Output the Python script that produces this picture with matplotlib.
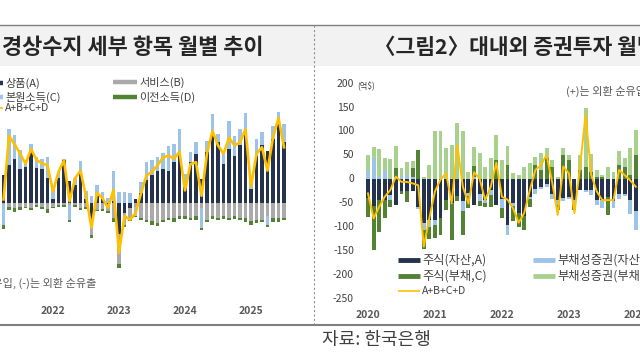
import numpy as np
import pandas as pd
import matplotlib
matplotlib.use('Agg')
import matplotlib.pyplot as plt
from matplotlib.lines import Line2D
from matplotlib.patches import Rectangle
from matplotlib.transforms import blended_transform_factory

plt.rcParams['font.family'] = ['Noto Sans CJK KR', 'DejaVu Sans']

W, H = 640, 360

# 경상수지 세부 항목 (억달러), 2021.04 ~ 2025.07
ca_months = pd.date_range('2021-04-01', '2025-07-01', freq='MS')
ca_goods = [46, 63, 74, 56, 60, 87, 59, 57, 42, 6, 41, 71,
            36, 30, 52, 6, -28, 11, 7, -3, 3, -52, -17, -8,
            6, 17, 39, 46, 54, 57, 54, 68, 82, 27, 68, 82,
            40, 85, 118, 101, 65, 90, 79, 96, 120, 23, 79, 96,
            87, 107, 131, 101]
ca_services = [-2, -7, -9, -7, -6, -8, -4, -7, -10, -6, -3, -4,
               -3, -4, -8, -7, -25, -11, -10, -11, -25, -50, -19, -19,
               -7, -25, -28, -30, -34, -28, -25, -25, -22, -22, -25, -22,
               -8, -28, -22, -25, -22, -25, -22, -25, -25, -30, -28, -28,
               -22, -25, -25, -25]
ca_primary = [-35, 61, 39, 33, 11, 12, 17, 17, 35, 21, 11, 3,
              -25, 11, 18, 14, 12, 19, 11, 8, 50, 19, 19, 17,
              -14, 18, 29, 26, 22, 27, 41, 30, 41, 22, 17, 19,
              -33, 19, 30, 14, 17, 47, 33, 28, 30, 17, 28, 22,
              -14, 22, 42, 30]
ca_transfer = [-6, -4, -6, -4, -3, -3, -3, -3, -6, -3, -3, -2,
               -4, -3, -4, -3, -6, -3, -3, -3, -6, -6, -4, -3,
               -3, -3, -3, -6, -4, -4, -4, -6, -4, -4, -4, -6,
               -4, -4, -4, -4, -4, -4, -4, -4, -6, -6, -6, -4,
               -4, -6, -6, -4]
ca_total = [6, 112, 98, 83, 65, 90, 72, 66, 63, 19, 52, 71,
            3, 41, 54, 11, -41, 17, 8, -8, 22, -83, -22, -28,
            -17, 16, 46, 52, 63, 76, 79, 74, 85, 21, 65, 68,
            12, 83, 120, 96, 82, 109, 96, 101, 123, 27, 82, 93,
            54, 109, 142, 93]

# 대내외 증권투자 (억달러), 2020.01 ~ 2024.01
pf_months = pd.date_range('2020-01-01', '2024-01-01', freq='MS')
pf_eq_asset = [-39, -55, -43, -43, -33, -53, -25, -25, -25, -57, -90, -84,
               -84, -80, -43, -50, -35, -45, -29, -53, -30, -43, -22, -53,
               -40, -95, -50, -70, -77, -36, -20, -15, -10, -30, -43, -39,
               -36, -43, -22, -22, -22, -43, -43, -36, -45, -30, -30, -43,
               -65]
pf_debt_asset = [20, 45, 8, 20, -10, 5, 8, 10, 5, -5, -15, -14,
                 -10, 0, 0, 0, 0, -20, -5, 5, -15, -5, -10, 0,
                 -20, -20, -5, 0, 0, -5, -10, -5, -5, -10, -10, -5,
                 -5, -10, 0, -5, -10, -10, -17, 0, -15, -10, -5, -28,
                 -40]
pf_eq_liab = [-39, -92, -66, -38, -15, 19, -5, -21, 19, 61, -40, -25,
              -28, -35, -20, -76, -10, -50, -25, 23, -10, -10, -25, 40,
              -20, 30, -31, -28, -28, -17, 30, 20, 45, 25, -10, 50,
              40, -10, 20, 27, 15, 5, 5, -38, 0, 30, 27, 10,
              51]
pf_debt_liab = [31, 22, 55, 24, 42, 45, 15, 27, 15, 0, 5, 30,
                100, 100, 65, 72, 118, 100, 16, 40, 55, 25, 45, 53,
                40, 40, 13, 10, 27, 35, 17, 35, 20, 15, 5, 15,
                10, 0, 31, 121, 39, 15, 5, 27, 16, 30, 17, 55,
                52]
pf_total = [-29, -81, -57, -36, -22, 6, -5, -5, -8, -12, -140, -80,
            -25, 0, 13, -50, 72, -15, -50, 15, 2, -43, -15, 35,
            -36, -42, -60, -90, -70, -22, 20, 30, 51, -5, -74, 27,
            13, -70, 27, 135, 10, -25, -43, -43, -43, 20, 9, -2,
            -15]

C_NAVY = '#26334f'
C_GRAY = '#aaaaaa'
C_BLUE = '#9dc3e6'
C_GREEN = '#548235'
C_LGREEN = '#a9d18e'
C_YELLOW = '#ffc000'
C_TEXT = '#404040'

fig = plt.figure(figsize=(W / 100, H / 100), dpi=100)


def fx(x):
    return x / W


def fy(y):
    return 1 - y / H


def px_axes(x0, y0, x1, y1):
    return fig.add_axes([fx(x0), fy(y1), (x1 - x0) / W, (y1 - y0) / H])


def stacked(ax, x, series, colors, width):
    pos = np.zeros(len(x))
    neg = np.zeros(len(x))
    for vals, c in zip(series, colors):
        v = np.asarray(vals, dtype=float)
        bottom = np.where(v >= 0, pos, neg)
        ax.bar(x, v, bottom=bottom, width=width, color=c, linewidth=0)
        pos += np.where(v >= 0, v, 0)
        neg += np.where(v < 0, v, 0)


def clean(ax):
    for s in ax.spines.values():
        s.set_visible(False)
    ax.set_xticks([])
    ax.set_yticks([])
    ax.patch.set_alpha(0)


def leg_item(x0, x1, y, color, lw, label, size):
    fig.add_artist(Line2D([fx(x0), fx(x1)], [fy(y), fy(y)], transform=fig.transFigure,
                          color=color, lw=lw, solid_capstyle='butt'))
    fig.text(fx(x1 + 2), fy(y), label, fontsize=size, color=C_TEXT, va='center', ha='left')


# frame: title band, borders, separator
fig.add_artist(Rectangle((0, fy(66)), 1, (66 - 25) / H, transform=fig.transFigure,
                         facecolor='#f2f2f2', edgecolor='none'))
fig.add_artist(Line2D([0, 1], [fy(24.5), fy(24.5)], transform=fig.transFigure, color='#7f7f7f', lw=1.0))
fig.add_artist(Line2D([0, 1], [fy(324.5), fy(324.5)], transform=fig.transFigure, color='#7f7f7f', lw=1.5))
fig.add_artist(Line2D([fx(313.5), fx(313.5)], [fy(25), fy(324)], transform=fig.transFigure,
                      color='#909090', lw=0.8, linestyle=(0, (2, 2))))

fig.text(fx(2), fy(47), '경상수지 세부 항목 월별 추이', fontsize=15.8, fontweight='bold',
         color='#262626', va='center', ha='left')
fig.text(fx(374), fy(47), '〈그림2〉대내외 증권투자 월별 추이', fontsize=15.5, fontweight='bold',
         color='#262626', va='center', ha='left')
fig.text(fx(322), fy(340), '자료: 한국은행', fontsize=13, color='#404040', va='center', ha='left')

# ---- left: current account ----
axl = px_axes(-5, 112, 290, 300)
xl = np.arange(len(ca_months))
stacked(axl, xl, [ca_goods, ca_services, ca_primary, ca_transfer],
        [C_NAVY, C_GRAY, C_BLUE, C_GREEN], 0.72)
axl.plot(xl, ca_total, color=C_YELLOW, lw=1.9)
axl.set_xlim(-1.545, 52.09)
axl.set_ylim(-161.7, 151.7)
clean(axl)
trl = blended_transform_factory(axl.transData, fig.transFigure)
for i, m in enumerate(ca_months):
    if m.month == 1:
        axl.text(i, fy(311), str(m.year), transform=trl, ha='center', va='center',
                 fontsize=7.5, fontweight='bold', color='#595959')

fig.text(fx(96), fy(283), '주: (+)는 외환 순유입, (-)는 외환 순유출', fontsize=8,
         color='#595959', ha='right', va='center')

leg_item(-10, 3, 83, C_NAVY, 3.2, '상품(A)', 8)
leg_item(-10, 3, 97, C_BLUE, 3.2, '본원소득(C)', 8)
leg_item(-10, 3, 108, C_YELLOW, 1.2, 'A+B+C+D', 7.5)
leg_item(113, 137, 82, C_GRAY, 3.2, '서비스(B)', 8)
leg_item(113, 137, 97, C_GREEN, 3.2, '이전소득(D)', 8)

# ---- right: portfolio investment ----
axr = px_axes(356, 80, 700, 305)
xr = np.arange(len(pf_months))
stacked(axr, xr, [pf_eq_asset, pf_debt_asset, pf_eq_liab, pf_debt_liab],
        [C_NAVY, C_BLUE, C_GREEN, C_LGREEN], 0.7)
axr.plot(xr, pf_total, color=C_YELLOW, lw=1.4)
axr.set_xlim(-2.15, 59.5)
axr.set_ylim(-261.5, 207.3)
clean(axr)
trr_y = blended_transform_factory(fig.transFigure, axr.transData)
for v in range(200, -251, -50):
    axr.text(fx(354), v, str(v), transform=trr_y, ha='right', va='center',
             fontsize=7.5, color=C_TEXT)
fig.text(fx(357), fy(86), '(억$)', fontsize=6, color=C_TEXT, ha='left', va='center')
trr_x = blended_transform_factory(axr.transData, fig.transFigure)
for i, m in enumerate(pf_months):
    if m.month == 1:
        axr.text(i, fy(315), str(m.year), transform=trr_x, ha='center', va='center',
                 fontsize=7.5, fontweight='bold', color='#595959')

fig.text(fx(566), fy(91), '(+)는 외환 순유입, (-)는 외환 순유출', fontsize=8,
         color='#595959', ha='left', va='center')

leg_item(398, 420, 260, C_NAVY, 3.5, '주식(자산,A)', 8.8)
leg_item(398, 420, 276, C_GREEN, 3.5, '주식(부채,C)', 8.8)
leg_item(398, 420, 291, C_YELLOW, 1.2, 'A+B+C+D', 7.5)
leg_item(533, 555, 260, C_BLUE, 3.5, '부채성증권(자산,B)', 8.8)
leg_item(533, 555, 276, C_LGREEN, 3.5, '부채성증권(부채,D)', 8.8)

fig.savefig('out.png', dpi=100)
